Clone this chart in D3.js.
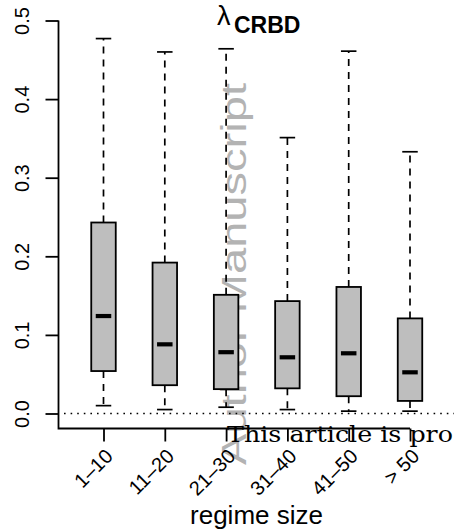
<!DOCTYPE html>
<html>
<head>
<meta charset="utf-8">
<script src="https://cdn.jsdelivr.net/npm/d3@7"></script>
<style>
  body { margin: 0; background: #fff; }
  svg { display: block; }
  text { font-family: 'Liberation Sans', Arial, sans-serif; }
</style>
</head>
<body>
<div id="main"></div>
<script>
// chart data
const sizeGroups = ['1–10', '11–20', '21–30', '31–40', '41–50', '> 50'];
const whiskerLow = [0.010, 0.005, 0.008, 0.005, 0.003, 0.003];
const q1 = [0.054, 0.036, 0.031, 0.032, 0.022, 0.016];
const medians = [0.124, 0.088, 0.078, 0.0715, 0.0766, 0.0524];
const q3 = [0.243, 0.192, 0.151, 0.143, 0.161, 0.121];
const whiskerHigh = [0.477, 0.460, 0.464, 0.351, 0.461, 0.333];
const yTicks = [0, 0.1, 0.2, 0.3, 0.4, 0.5];

const WIDTH = 454;
const HEIGHT = 532;
const PLOT = { left: 58.5, right: 410, top: 20.5, bottom: 428.5 };

const records = sizeGroups.map((g, i) => ({
  group: g,
  lo: whiskerLow[i],
  q1: q1[i],
  med: medians[i],
  q3: q3[i],
  hi: whiskerHigh[i],
}));

const svg = d3
  .select('div#main')
  .append('svg')
  .attr('width', WIDTH)
  .attr('height', HEIGHT);

// scalers
const xScale = d3.scalePoint().domain(sizeGroups).range([103.5, 410]);
const yScale = d3.scaleLinear().domain([0, 0.5]).range([413.5, 20.5]);

// watermark behind the plot
svg
  .append('text')
  .attr('transform', `translate(246,465) rotate(-90)`)
  .attr('textLength', 382)
  .attr('lengthAdjust', 'spacingAndGlyphs')
  .style('font-size', '35px')
  .style('fill', '#b3b3b3')
  .text('Author Manuscript');

// zero reference line
svg
  .append('line')
  .attr('x1', 64)
  .attr('x2', WIDTH)
  .attr('y1', yScale(0))
  .attr('y2', yScale(0))
  .attr('stroke', '#000')
  .attr('stroke-width', 1.6)
  .attr('stroke-dasharray', '1.6,5');

// boxes
const BOX_W = 24.5;
const CAP_W = 15.5;
const boxes = svg
  .selectAll('.box')
  .data(records)
  .enter()
  .append('g')
  .attr('class', 'box')
  .attr('transform', (d) => `translate(${xScale(d.group)},0)`);

boxes
  .append('line')
  .attr('y1', (d) => yScale(d.q3))
  .attr('y2', (d) => yScale(d.hi))
  .attr('stroke', '#000')
  .attr('stroke-width', 1.7)
  .attr('stroke-dasharray', '7,6');

boxes
  .append('line')
  .attr('y1', (d) => yScale(d.q1))
  .attr('y2', (d) => yScale(d.lo))
  .attr('stroke', '#000')
  .attr('stroke-width', 1.7)
  .attr('stroke-dasharray', '7,6');

boxes
  .selectAll('.cap')
  .data((d) => [d.lo, d.hi])
  .enter()
  .append('line')
  .attr('class', 'cap')
  .attr('x1', -CAP_W / 2)
  .attr('x2', CAP_W / 2)
  .attr('y1', (v) => yScale(v))
  .attr('y2', (v) => yScale(v))
  .attr('stroke', '#000')
  .attr('stroke-width', 1.7);

boxes
  .append('rect')
  .attr('x', -BOX_W / 2)
  .attr('width', BOX_W)
  .attr('y', (d) => yScale(d.q3))
  .attr('height', (d) => yScale(d.q1) - yScale(d.q3))
  .attr('fill', '#bebebe')
  .attr('stroke', '#000')
  .attr('stroke-width', 1.8);

boxes
  .append('line')
  .attr('x1', -CAP_W / 2)
  .attr('x2', CAP_W / 2)
  .attr('y1', (d) => yScale(d.med))
  .attr('y2', (d) => yScale(d.med))
  .attr('stroke', '#000')
  .attr('stroke-width', 4.2);

// l-shaped frame
svg
  .append('path')
  .attr('d', `M${PLOT.left},${PLOT.top}V${PLOT.bottom}H${PLOT.right}`)
  .attr('fill', 'none')
  .attr('stroke', '#000')
  .attr('stroke-width', 1.8);

// y-axis
const yAxisGroup = svg
  .append('g')
  .attr('transform', `translate(${PLOT.left},0)`)
  .call(
    d3
      .axisLeft(yScale)
      .tickValues(yTicks)
      .tickSize(13)
      .tickFormat(d3.format('.1f'))
  );
yAxisGroup.select('.domain').remove();
yAxisGroup.selectAll('line').attr('stroke-width', 1.8);
yAxisGroup
  .selectAll('text')
  .attr('x', null)
  .attr('dy', null)
  .attr('text-anchor', 'middle')
  .attr('transform', 'translate(-30,0) rotate(-90)')
  .style('font-size', '20px')
  .style('fill', '#000');

// x-axis
const xAxisGroup = svg
  .append('g')
  .attr('transform', `translate(0,${PLOT.bottom})`)
  .call(d3.axisBottom(xScale).tickSize(13).tickSizeOuter(0));
xAxisGroup.select('.domain').remove();
xAxisGroup.selectAll('line').attr('stroke-width', 1.8);
xAxisGroup
  .selectAll('text')
  .attr('y', null)
  .attr('dy', null)
  .attr('text-anchor', 'end')
  .attr('transform', 'translate(10,29) rotate(-45)')
  .style('font-size', '20px')
  .style('fill', '#000');

// axis title
svg
  .append('text')
  .attr('x', 256.5)
  .attr('y', 524)
  .attr('text-anchor', 'middle')
  .style('font-size', '26px')
  .text('regime size');

// plot title: lambda with bold subscript
const title = svg.append('text').attr('x', 217).attr('y', 25);
title.append('tspan').style('font-size', '27px').text('λ');
title
  .append('tspan')
  .attr('x', 234)
  .attr('dy', 8)
  .style('font-size', '23px')
  .style('font-weight', 'bold')
  .text('CRBD');

// footer watermark over the plot, cut at the right edge as in the source
svg
  .append('text')
  .attr('x', 227)
  .attr('y', 442)
  .attr('textLength', 226)
  .attr('lengthAdjust', 'spacingAndGlyphs')
  .style('font-family', "'DejaVu Serif', serif")
  .style('font-size', '22px')
  .style('fill', '#000')
  .text('This article is pro');
</script>
</body>
</html>
